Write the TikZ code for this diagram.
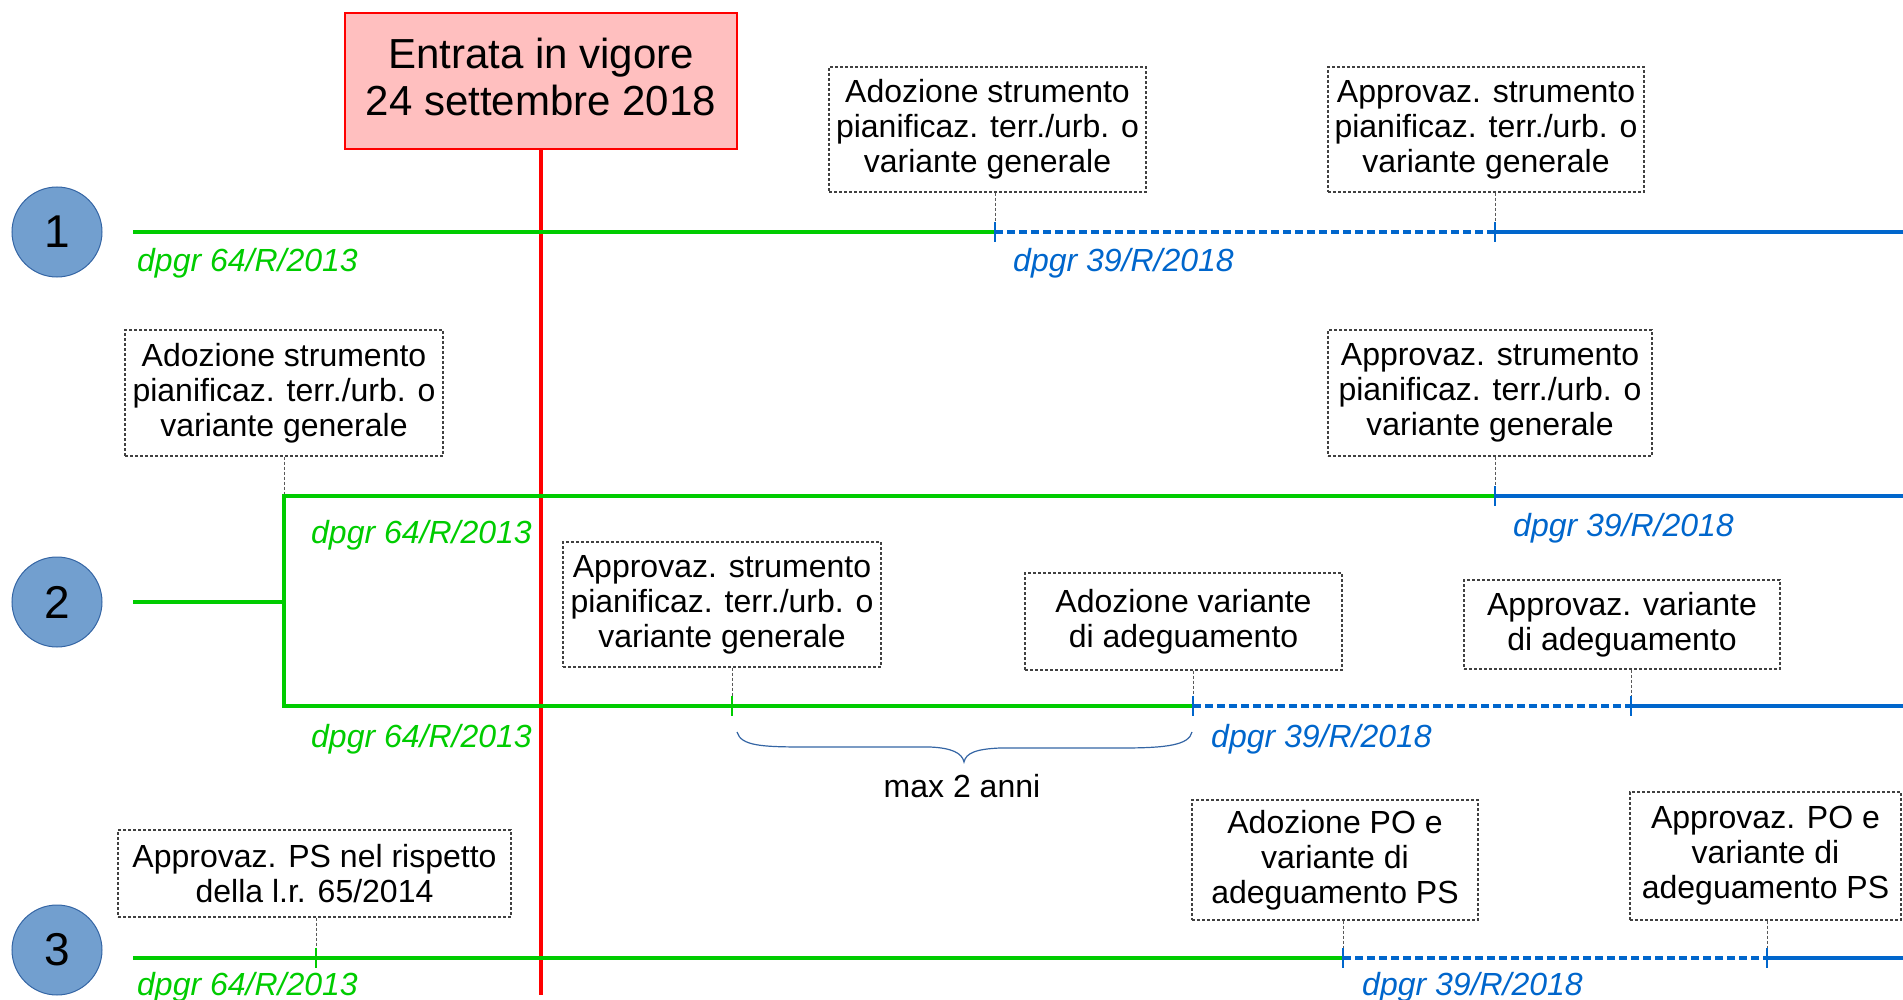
\documentclass[tikz,border=0pt]{standalone}
\usepackage{fontspec}
\setmainfont{Liberation Sans}
\usetikzlibrary{calc}
\definecolor{lgreen}{HTML}{00CC00}
\definecolor{lblue}{HTML}{0066CC}
\definecolor{cfill}{HTML}{729FCF}
\definecolor{cdraw}{HTML}{3465A4}
\definecolor{pinkf}{HTML}{FFBFBF}
\newcommand\bxfont{\fontsize{32}{35}\selectfont}
\newcommand\bigfnt{\fontsize{42}{47}\selectfont}
\newcommand\numfnt{\fontsize{46}{50}\selectfont}
\newcommand\labfnt{\fontsize{32}{35}\selectfont\itshape}
\tikzset{
  evbox/.style={draw=black!75, dash pattern=on 3pt off 2pt, line width=1.2pt, fill=white, align=center, inner sep=0pt, font=\bxfont},
  grn/.style={draw=lgreen, line width=4pt},
  blu/.style={draw=lblue, line width=4pt},
  bludash/.style={draw=lblue, line width=4pt, dash pattern=on 8pt off 4pt},
  tickg/.style={draw=lgreen, line width=2pt},
  tickb/.style={draw=lblue, line width=2pt},
  conn/.style={draw=black!65, line width=1pt, dash pattern=on 3pt off 2pt},
  lab/.style={font=\labfnt, anchor=west, inner sep=0pt},
  num/.style={circle, draw=cdraw, fill=cfill, line width=1pt, minimum size=90pt, inner sep=0pt, font=\numfnt},
  bracestyle/.style={draw=cdraw, line width=1.2pt},
}
\begin{document}
\begin{tikzpicture}[x=1pt,y=-1pt]
\useasboundingbox (0,0) rectangle (1903,1000);

% Entrata in vigore
\node[draw=red, fill=pinkf, line width=1.2pt, minimum width=392pt, minimum height=136pt, inner sep=0pt] (E) at (541,81) {};
\node[align=center, inner sep=0pt, font=\bigfnt] (Et) at (541,76.5) {Entrata in vigore\\24 settembre 2018};
\coordinate (rb) at (541,995);

% circles
\node[num] (n1) at (57,232) {1};
\node[num] (n2) at (57,602) {2};
\node[num] (n3) at (57,950) {3};

% coordinates on lines
\coordinate (s1) at (133,232);
\coordinate (t1a) at (995,232);
\coordinate (t1b) at (1495,232);
\coordinate (e1) at (1903,232);

\coordinate (s2) at (133,602);
\coordinate (j2) at (284,602);
\coordinate (t2a) at (284,496);
\coordinate (t2b) at (1495,496);
\coordinate (e2a) at (1903,496);
\coordinate (c2) at (284,706);
\coordinate (t2c) at (732,706);
\coordinate (t2d) at (1193,706);
\coordinate (t2e) at (1631,706);
\coordinate (e2b) at (1903,706);

\coordinate (s3) at (133,958);
\coordinate (t3a) at (316,958);
\coordinate (t3b) at (1343,958);
\coordinate (t3c) at (1767,958);
\coordinate (e3) at (1903,958);

% boxes
\node[evbox, minimum width=317pt, minimum height=125pt] (A1) at (987.5,129.5) {Adozione strumento\\pianificaz. terr./urb. o\\variante generale};
\node[evbox, minimum width=316pt, minimum height=125pt] (B1) at (1486,129.5) {Approvaz. strumento\\pianificaz. terr./urb. o\\variante generale};
\node[evbox, minimum width=318pt, minimum height=126pt] (A2) at (284,393) {Adozione strumento\\pianificaz. terr./urb. o\\variante generale};
\node[evbox, minimum width=324pt, minimum height=126pt] (B2) at (1490,393) {Approvaz. strumento\\pianificaz. terr./urb. o\\variante generale};
\node[evbox, minimum width=318pt, minimum height=125pt] (C2) at (722,604.5) {Approvaz. strumento\\pianificaz. terr./urb. o\\variante generale};
\node[evbox, minimum width=317pt, minimum height=97pt] (D2) at (1183.5,621.5) {Adozione variante\\di adeguamento};
\node[evbox, minimum width=316pt, minimum height=89pt] (F2) at (1622,624.5) {Approvaz. variante\\di adeguamento};
\node[evbox, minimum width=393pt, minimum height=87pt] (A3) at (314.5,873.5) {Approvaz. PS nel rispetto\\della l.r. 65/2014};
\node[evbox, minimum width=286pt, minimum height=120pt] (B3) at (1335,860) {Adozione PO e\\variante di\\adeguamento PS};
\node[evbox, minimum width=271pt, minimum height=128pt] (C3) at (1765.5,856) {Approvaz. PO e\\variante di\\adeguamento PS};

% connectors from boxes
\draw[conn] (A1.south -| t1a) -- (t1a);
\draw[conn] (B1.south -| t1b) -- (t1b);
\draw[conn] (A2.south -| t2a) -- (t2a);
\draw[conn] (B2.south -| t2b) -- (t2b);
\draw[conn] (C2.south -| t2c) -- (t2c);
\draw[conn] (D2.south -| t2d) -- (t2d);
\draw[conn] (F2.south -| t2e) -- (t2e);
\draw[conn] (A3.south -| t3a) -- (t3a);
\draw[conn] (B3.south -| t3b) -- (t3b);
\draw[conn] (C3.south -| t3c) -- (t3c);

% red line
\draw[draw=red, line width=4pt] (E.south) -- (rb);

% row 1
\draw[grn] (s1) -- (t1a);
\draw[bludash] (t1a) -- (t1b);
\draw[blu] (t1b) -- (e1);
\draw[tickb] (t1a) ++(0,-10) -- ++(0,20);
\draw[tickb] (t1b) ++(0,-10) -- ++(0,20);

% row 2
\draw[grn] (s2) -- (j2);
\draw[grn] (t2b) -- (t2a) -- (c2) -- (t2d);
\draw[blu] (t2b) -- (e2a);
\draw[bludash] (t2d) -- (t2e);
\draw[blu] (t2e) -- (e2b);
\draw[tickb] (t2b) ++(0,-10) -- ++(0,20);
\draw[tickg] (t2c) ++(0,-10) -- ++(0,20);
\draw[tickb] (t2d) ++(0,-10) -- ++(0,20);
\draw[tickb] (t2e) ++(0,-10) -- ++(0,20);

% row 3
\draw[grn] (s3) -- (t3b);
\draw[bludash] (t3b) -- (t3c);
\draw[blu] (t3c) -- (e3);
\draw[tickg] (t3a) ++(0,-10) -- ++(0,20);
\draw[tickb] (t3b) ++(0,-10) -- ++(0,20);
\draw[tickb] (t3c) ++(0,-10) -- ++(0,20);

% labels
\node[lab, text=lgreen] (L1g) at (137,263) {dpgr 64/R/2013};
\node[lab, text=lblue] (L1b) at (1013,263) {dpgr 39/R/2018};
\node[lab, text=lgreen] (L2g) at (311,535) {dpgr 64/R/2013};
\node[lab, text=lblue] (L2b) at (1513,528) {dpgr 39/R/2018};
\node[lab, text=lgreen] (L2h) at (311,739) {dpgr 64/R/2013};
\node[lab, text=lblue] (L2c) at (1211,739) {dpgr 39/R/2018};
\node[lab, text=lgreen] (L3g) at (137,987) {dpgr 64/R/2013};
\node[lab, text=lblue] (L3b) at (1362,987) {dpgr 39/R/2018};

% brace
\coordinate (bl) at ($(t2c)+(5,26)$);
\coordinate (br) at ($(t2d)+(-1,26)$);
\coordinate (btip) at (964,762);
\draw[bracestyle] (bl) .. controls ($(bl)+(4,14)$) and ($(bl)+(25,15)$) .. ($(bl)+(70,15)$)
  -- (930,747) .. controls (952,748) and (962,753) .. (btip)
  .. controls (966,753) and (976,749) .. (1000,748)
  -- ($(br)+(-70,16)$) .. controls ($(br)+(-25,16)$) and ($(br)+(-3,13)$) .. (br);
\node[font=\bxfont, inner sep=0pt] (mx) at (962,786) {max 2 anni};
\end{tikzpicture}
\end{document}
